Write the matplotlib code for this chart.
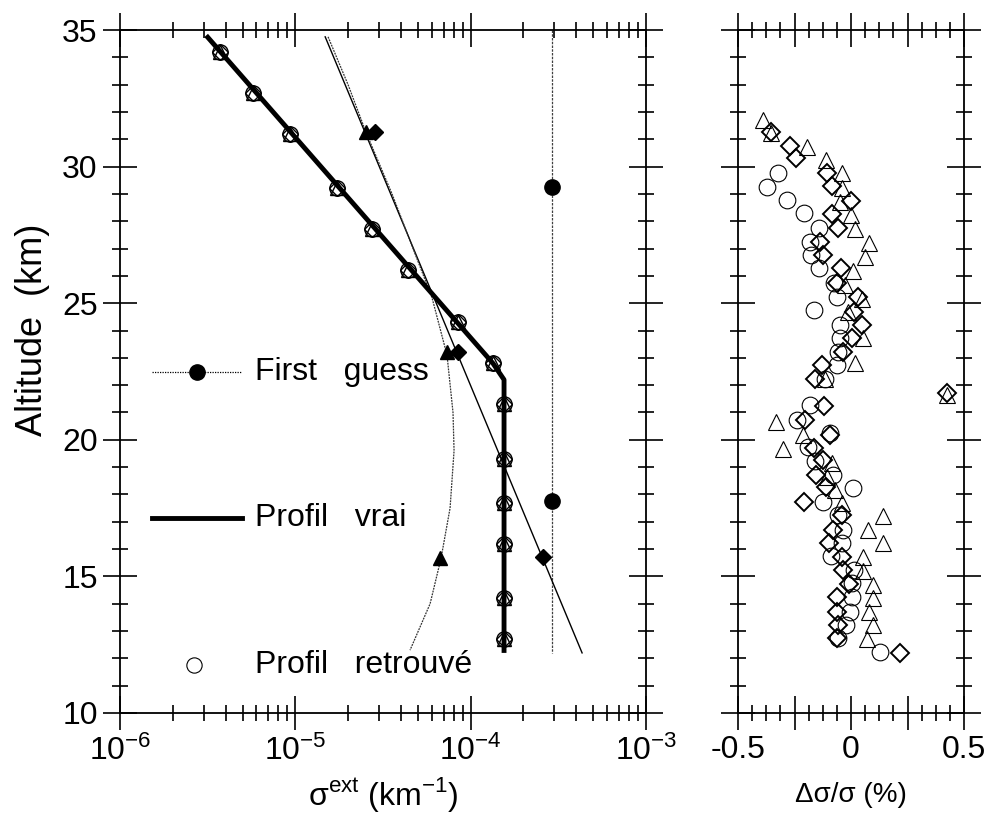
import matplotlib
matplotlib.use("Agg")
import matplotlib.pyplot as plt
from matplotlib.lines import Line2D
from matplotlib.ticker import FixedLocator, FixedFormatter, NullFormatter, LogLocator
import numpy as np

plt.rcParams["font.family"] = ["Liberation Sans", "DejaVu Sans"]
plt.rcParams["mathtext.fontset"] = "custom"
plt.rcParams["mathtext.rm"] = "Liberation Sans"

# ---- extinction profiles (km^-1) vs altitude (km) ----
alt_true = [34.8, 22.8, 22.2, 12.2]
sig_true = [3.1e-6, 1.34e-4, 1.55e-4, 1.55e-4]

alt_retr = [34.2, 32.7, 31.2, 29.2, 27.7, 26.2, 24.3, 22.8, 21.3, 19.3, 17.7, 16.2, 14.2, 12.7]
sig_retr = [3.72e-6, 5.74e-6, 9.33e-6, 1.73e-5, 2.74e-5, 4.40e-5, 8.47e-5, 1.34e-4,
            1.55e-4, 1.55e-4, 1.55e-4, 1.55e-4, 1.55e-4, 1.55e-4]

# first guess 1 : constant
alt_fg1 = [35.0, 12.2]
sig_fg1 = [2.9e-4, 2.9e-4]
alt_fg1_pts = [29.25, 17.75]
sig_fg1_pts = [2.9e-4, 2.9e-4]

# first guess 2 : exponential
alt_fg2 = [34.75, 12.2]
sig_fg2 = [1.48e-5, 4.32e-4]
alt_fg2_pts = [31.25, 23.2, 15.7]
sig_fg2_pts = [2.85e-5, 8.48e-5, 2.59e-4]

# first guess 3 : curved
alt_fg3 = [34.75, 33.0, 31.25, 29.0, 27.0, 25.2, 23.1, 21.0, 19.6, 17.5, 15.67, 14.0, 12.3]
sig_fg3 = [1.537e-5, 1.998e-5, 2.531e-5, 3.561e-5, 4.692e-5, 6.02e-5, 7.33e-5,
           7.93e-5, 8.04e-5, 7.63e-5, 6.78e-5, 5.87e-5, 4.51e-5]
alt_fg3_pts = [31.25, 23.2, 15.67]
sig_fg3_pts = [2.53e-5, 7.33e-5, 6.7e-5]

# ---- relative deviation (%) of the retrieved profiles ----
alt_dev_tri = [31.71, 31.22, 30.73, 30.24, 29.75, 29.2, 28.72, 28.23, 27.70, 27.21, 26.68,
               26.19, 25.67, 25.14, 24.69, 23.72, 22.80, 22.21, 21.64, 20.66, 20.18, 19.65,
               19.14, 18.65, 18.16, 17.68, 17.21, 16.70, 16.21, 15.70, 15.21, 14.69, 14.20,
               13.71, 13.22, 12.70]
dev_tri = [-0.391, -0.355, -0.193, -0.111, -0.041, -0.041, -0.049, -0.001, 0.018, 0.080, 0.062,
           0.010, -0.027, 0.047, -0.012, 0.055, 0.018, -0.115, 0.423, -0.332, -0.211, -0.300,
           -0.085, -0.108, -0.071, -0.041, 0.140, 0.077, 0.140, 0.055, 0.055, 0.096, 0.096,
           0.081, 0.096, 0.069]

alt_dev_dia = [31.28, 30.75, 30.30, 29.78, 29.29, 28.75, 28.26, 27.74, 27.25, 26.76, 26.28,
               25.73, 25.24, 24.69, 24.20, 23.72, 23.23, 22.74, 22.21, 21.70, 21.23, 20.72,
               20.18, 19.69, 19.26, 18.71, 18.26, 17.74, 17.25, 16.70, 16.23, 15.72, 15.23,
               14.71, 14.23, 13.71, 13.22, 12.73, 12.21]
dev_dia = [-0.355, -0.270, -0.243, -0.105, -0.085, -0.001, -0.083, -0.056, -0.137, -0.123, -0.044,
           -0.063, 0.032, 0.015, 0.050, 0.006, -0.037, -0.130, -0.159, 0.423, -0.119, -0.204,
           -0.093, -0.164, -0.125, -0.155, -0.111, -0.207, -0.041, -0.081, -0.096, -0.041, -0.037,
           -0.008, -0.061, -0.063, -0.056, -0.061, 0.217]

alt_dev_cir = [29.75, 29.26, 28.78, 28.29, 27.74, 27.25, 26.76, 26.28, 25.73, 25.24, 24.75,
               24.20, 23.72, 23.23, 22.74, 22.21, 21.27, 20.72, 20.24, 19.75, 19.22, 18.71,
               18.22, 17.74, 17.25, 16.70, 16.23, 15.75, 15.23, 14.75, 14.23, 13.71, 13.22,
               12.73, 12.24]
dev_cir = [-0.324, -0.373, -0.285, -0.208, -0.140, -0.181, -0.178, -0.142, -0.074, -0.063, -0.162,
           -0.049, -0.049, -0.059, -0.061, -0.115, -0.181, -0.240, -0.093, -0.189, -0.159, -0.081,
           0.010, -0.125, -0.056, -0.034, -0.041, -0.090, 0.013, 0.003, 0.003, -0.004, -0.022,
           -0.056, 0.128]

fig = plt.figure(figsize=(9.9, 8.15), dpi=100)
ax1 = fig.add_axes([120 / 990, 102 / 815, 526 / 990, 683 / 815])
ax2 = fig.add_axes([738 / 990, 102 / 815, 226 / 990, 683 / 815])

for ax in (ax1, ax2):
    for s in ax.spines.values():
        s.set_linewidth(1.3)
    ax.tick_params(which="both", direction="inout", top=True, right=True, width=1.2,
                   labelsize=23, pad=4)
    ax.tick_params(which="major", length=24)
    ax.tick_params(which="minor", length=12)
    ax.set_ylim(10, 35)
    ax.yaxis.set_major_locator(FixedLocator([10, 15, 20, 25, 30, 35]))
    ax.yaxis.set_minor_locator(FixedLocator(np.arange(10, 36, 1)))

# left panel
ax1.set_xscale("log")
ax1.set_xlim(1e-6, 1e-3)
ax1.xaxis.set_minor_locator(LogLocator(base=10, subs=np.arange(2, 10), numticks=10))
ax1.xaxis.set_minor_formatter(NullFormatter())
ax1.set_xticks([1e-6, 1e-5, 1e-4, 1e-3])
ax1.set_xticklabels([r"$\mathregular{10^{-6}}$", r"$\mathregular{10^{-5}}$",
                     r"$\mathregular{10^{-4}}$", r"$\mathregular{10^{-3}}$"])

ax1.plot(sig_fg1, alt_fg1, color="0.25", lw=0.9, ls=(0, (2, 1)))
ax1.plot(sig_fg1_pts, alt_fg1_pts, "o", color="k", ms=11)
ax1.plot(sig_fg2, alt_fg2, color="k", lw=1.0)
ax1.plot(sig_fg2_pts, alt_fg2_pts, "D", color="k", ms=8)
ax1.plot(sig_fg3, alt_fg3, color="0.2", lw=0.9, ls=(0, (1.5, 0.8)))
ax1.plot(sig_fg3_pts, alt_fg3_pts, "^", color="k", ms=10)

ax1.plot(sig_true, alt_true, color="k", lw=3.5, solid_capstyle="butt")
for m, ms in (("o", 11), ("^", 10), ("D", 8)):
    ax1.plot(sig_retr, alt_retr, m, mfc="none", mec="k", mew=1.0, ms=ms)

# key inside the left panel
tr = ax1.transAxes
ax1.add_line(Line2D([0.061, 0.232], [0.499, 0.499], transform=tr, color="k", lw=0.9,
                    ls=(0, (1, 1))))
ax1.add_line(Line2D([0.147], [0.499], transform=tr, marker="o", color="k", ms=11))
ax1.text(0.257, 0.499, "First   guess", transform=tr, fontsize=23, va="center")
ax1.add_line(Line2D([0.061, 0.232], [0.2855, 0.2855], transform=tr, color="k", lw=3.5))
ax1.text(0.257, 0.2855, "Profil   vrai", transform=tr, fontsize=23, va="center")
ax1.add_line(Line2D([0.141], [0.0703], transform=tr, marker="o", mfc="none", mec="k",
                    mew=0.8, ms=11))
ax1.text(0.257, 0.0703, "Profil   retrouvé", transform=tr, fontsize=23, va="center")

# right panel
ax2.set_xlim(-0.5, 0.5)
ax2.xaxis.set_major_locator(FixedLocator([-0.5, -0.25, 0, 0.25, 0.5]))
ax2.xaxis.set_major_formatter(FixedFormatter(["-0.5", "", "0", "", "0.5"]))
ax2.xaxis.set_minor_locator(FixedLocator(np.arange(-0.5, 0.51, 0.0625)))
ax2.yaxis.set_major_formatter(NullFormatter())

ax2.plot(dev_cir, alt_dev_cir, "o", mfc="none", mec="k", mew=0.8, ms=12)
ax2.plot(dev_tri, alt_dev_tri, "^", mfc="none", mec="k", mew=0.8, ms=12)
ax2.plot(dev_dia, alt_dev_dia, "D", mfc="none", mec="k", mew=1.4, ms=9)

fig.text(0.033, 0.595, "Altitude  (km)", rotation=90, fontsize=26, ha="center", va="center")
fig.text(0.387, 0.025, r"σ$^{\mathregular{ext}}$ (km$^{\mathregular{-1}}$)", fontsize=23,
         ha="center", va="center")
fig.text(0.86, 0.025, "Δσ/σ (%)", fontsize=20, ha="center", va="center")

fig.savefig("out.png", dpi=100)
